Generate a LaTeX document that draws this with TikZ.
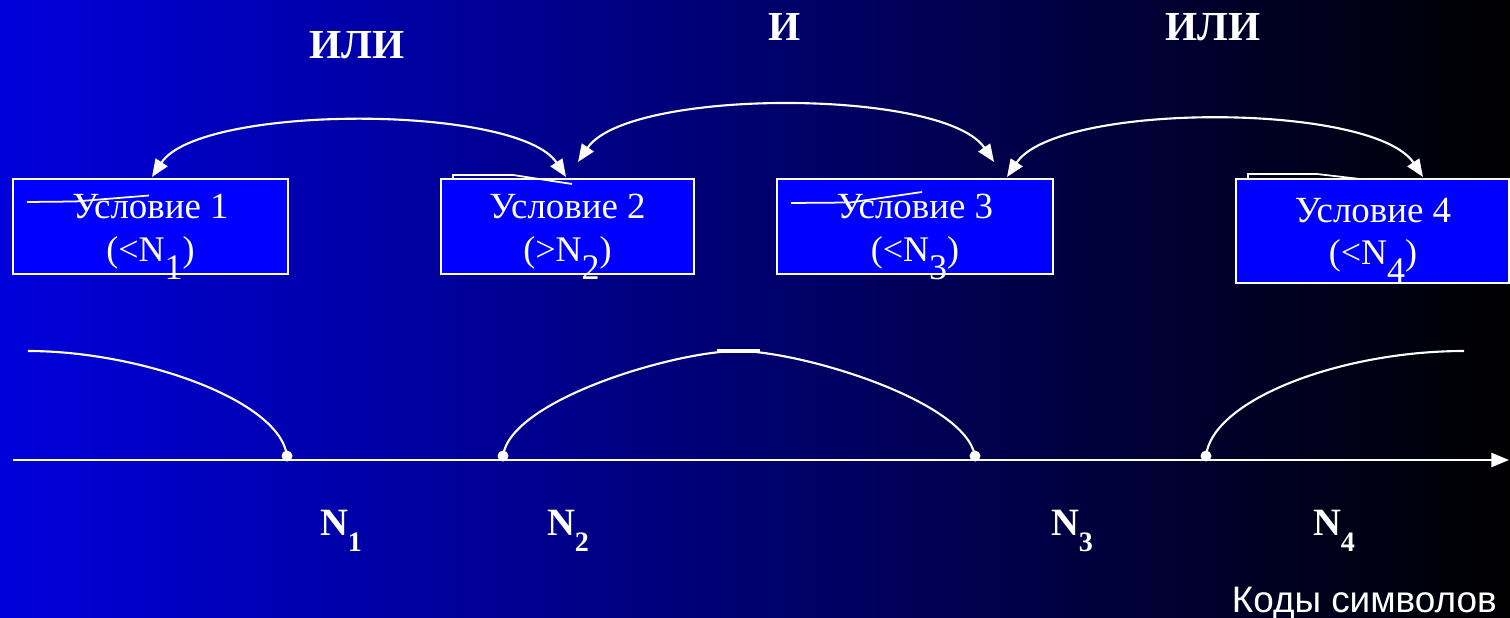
\documentclass[tikz,border=0pt]{standalone}
\usepackage{fontspec}
\setmainfont{Liberation Serif}
\setsansfont{Liberation Sans}
\usetikzlibrary{arrows.meta}
\definecolor{bgleft}{RGB}{0,0,220}
\definecolor{boxblue}{RGB}{0,0,255}
\newcommand\lowsub[1]{\raisebox{-0.5em}{#1}}
\newcommand\nsub[1]{\raisebox{-0.42em}{#1}}
\tikzset{
  condbox/.style={draw=white, line width=1.1pt, fill=boxblue, inner sep=0pt},
  lineone/.style={text=white, inner sep=0pt, anchor=base, font=\fontsize{21}{24}\selectfont},
  linetwo/.style={text=white, inner sep=0pt, anchor=base, font=\fontsize{20.5}{22}\selectfont},
  toparc/.style={white, line width=1.2pt, {Triangle[length=10pt,width=8pt]}-{Triangle[length=10pt,width=8pt]}},
  curveline/.style={white, line width=1.2pt},
  axisline/.style={white, line width=1.2pt, -{Triangle[length=10pt,width=8pt]}},
  dotnode/.style={circle, fill=white, inner sep=0pt, minimum size=0.22cm},
  nlab/.style={text=white, font=\bfseries\fontsize{22}{25}\selectfont, inner sep=0pt, anchor=base},
  titlelab/.style={text=white, font=\bfseries\fontsize{23.5}{26}\selectfont, inner sep=0pt},
  scratch/.style={white, line width=1pt}
}
\begin{document}
\begin{tikzpicture}[x=0.02cm,y=-0.02cm]
\useasboundingbox (0,0) rectangle (1510,618);
\shade[left color=bgleft, right color=black] (0,0) rectangle (1510,618);

% titles
\node[titlelab] (or1) at (357,45) {ИЛИ};
\node[titlelab] (and1) at (785,27) {И};
\node[titlelab] (or2) at (1213,27) {ИЛИ};

% condition boxes
\node[condbox, minimum width=5.5cm, minimum height=1.9cm] (b1) at (150.5,226.5) {};
\node[condbox, minimum width=5.06cm, minimum height=1.9cm] (b2) at (567.5,226.5) {};
\node[condbox, minimum width=5.52cm, minimum height=1.9cm] (b3) at (915,226.5) {};
\node[condbox, minimum width=5.46cm, minimum height=2.08cm] (b4) at (1372.5,231) {};

\node[lineone] (b1a) at (150.5,218) {Условие 1};
\node[linetwo] (b1b) at (150.5,261) {(<N\lowsub{1})};
\node[lineone] (b2a) at (567.5,218) {Условие 2};
\node[linetwo] (b2b) at (567.5,261) {(>N\lowsub{2})};
\node[lineone] (b3a) at (915,218) {Условие 3};
\node[linetwo] (b3b) at (915,261) {(<N\lowsub{3})};
\node[lineone] (b4a) at (1373,222) {Условие 4};
\node[linetwo] (b4b) at (1373,264) {(<N\lowsub{4})};

% stray strokes over the boxes
\draw[scratch] (27,202) -- (75,201.5) -- (149,195.5);
\draw[scratch] (453,179) -- (453,175) -- (513,175) -- (572,184);
\draw[scratch] (791,203) -- (850,202.5) -- (922,192);
\draw[scratch] (1248,179) -- (1248,174) -- (1317,174) -- (1360,179);

% arrow end points of the top arcs
\coordinate (t1a) at (152,177);
\coordinate (t1b) at (566,177);
\coordinate (t2a) at (578,162);
\coordinate (t2b) at (994,162);
\coordinate (t3a) at (1007,177);
\coordinate (t3b) at (1423,177);

\draw[toparc] (t1a) .. controls +(48,-73) and +(-48,-73) .. (t1b);
\draw[toparc] (t2a) .. controls +(50,-74) and +(-50,-74) .. (t2b);
\draw[toparc] (t3a) .. controls +(50,-75) and +(-50,-75) .. (t3b);

% axis
\coordinate (ax0) at (13,460);
\coordinate (ax1) at (1509,460);
\draw[axisline] (ax0) -- (ax1);

\node[dotnode] (d1) at (287,456) {};
\node[dotnode] (d2) at (503,456) {};
\node[dotnode] (d3) at (975,456) {};
\node[dotnode] (d4) at (1206,456) {};

\coordinate (c1) at (28,351);
\coordinate (c2) at (738,351);
\coordinate (c3) at (1464,351);

\draw[curveline] (c1) .. controls (140,351) and (280,400) .. (d1.center);
\draw[curveline] (d2.center) .. controls (510,400) and (675,351) .. (c2)
                 .. controls (800,351) and (965,400) .. (d3.center);
\draw[curveline] (d4.center) .. controls (1212,400) and (1340,351) .. (c3);
\draw[white, line width=2pt] (717,351) -- (760,351);

% N labels
\node[nlab] (n1) at (341,535) {N\nsub{\fontsize{16}{18}\selectfont 1}};
\node[nlab] (n2) at (568,535) {N\nsub{\fontsize{16}{18}\selectfont 2}};
\node[nlab] (n3) at (1072,535) {N\nsub{\fontsize{16}{18}\selectfont 3}};
\node[nlab] (n4) at (1334,535) {N\nsub{\fontsize{16}{18}\selectfont 4}};

\node[text=white, font=\sffamily\fontsize{21}{24}\selectfont, inner sep=0pt, anchor=base east] (codes) at (1497,612) {Коды символов};
\end{tikzpicture}
\end{document}
